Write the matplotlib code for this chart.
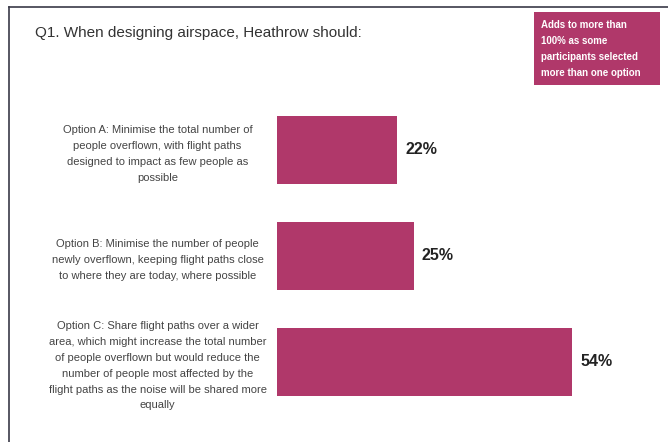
import matplotlib
matplotlib.use("Agg")
import matplotlib.pyplot as plt
from matplotlib.patches import Rectangle
from matplotlib.lines import Line2D

plt.rcParams['font.family'] = ['Liberation Sans Narrow', 'Liberation Sans', 'DejaVu Sans']

# survey results
options = [
    "Option A: Minimise the total number of\npeople overflown, with flight paths\ndesigned to impact as few people as\npossible",
    "Option B: Minimise the number of people\nnewly overflown, keeping flight paths close\nto where they are today, where possible",
    "Option C: Share flight paths over a wider\narea, which might increase the total number\nof people overflown but would reduce the\nnumber of people most affected by the\nflight paths as the noise will be shared more\nequally",
]
shares = [22, 25, 54]
title = "Q1. When designing airspace, Heathrow should:"
note = "Adds to more than\n100% as some\nparticipants selected\nmore than one option"

BAR = "#B0386A"
W, H = 668, 442

fig = plt.figure(figsize=(W / 100, H / 100), dpi=100)
fig.patch.set_facecolor("white")

# page frame: top rule and left rule
fig.add_artist(Line2D([9 / W, 1], [1 - 7 / H, 1 - 7 / H], color="#3a3a48", lw=1.2))
fig.add_artist(Line2D([9 / W, 9 / W], [0, 1 - 7 / H], color="#3a3a48", lw=1.2))

fig.text(35 / W, 1 - 33 / H, title, fontsize=11, color="#333333", va="center", ha="left")

# note box in the corner
fig.add_artist(Rectangle((534 / W, 1 - 85 / H), 126 / W, 73 / H, facecolor=BAR,
                         edgecolor="none", transform=fig.transFigure))
fig.text(541 / W, 1 - 49 / H, note, fontsize=7.0, color="white", fontweight="bold",
         va="center", ha="left", linespacing=1.75)

ax = fig.add_axes([277 / W, (H - 415) / H, 383 / W, 318 / H])
y = list(range(len(shares)))
ax.barh(y, shares, height=0.65, color=BAR)
ax.set_xlim(0, 70)
ax.set_ylim(2.5, -0.5)

for yi, v in zip(y, shares):
    ax.annotate(f"{v}%", (v, yi), xytext=(5.5, 0), textcoords="offset points",
                va="center", ha="left", fontsize=11.5, fontweight="bold", color="#222222")

ax.set_yticks(y)
ax.set_yticklabels(options, fontsize=8.0, color="#444444", linespacing=1.72)
for lab in ax.get_yticklabels():
    lab.set_horizontalalignment("center")
    lab.set_multialignment("center")
ax.tick_params(axis="y", length=0, pad=86)
ax.set_xticks([])
for s in ax.spines.values():
    s.set_visible(False)
ax.patch.set_alpha(0)

plt.savefig("out.png", dpi=100)
